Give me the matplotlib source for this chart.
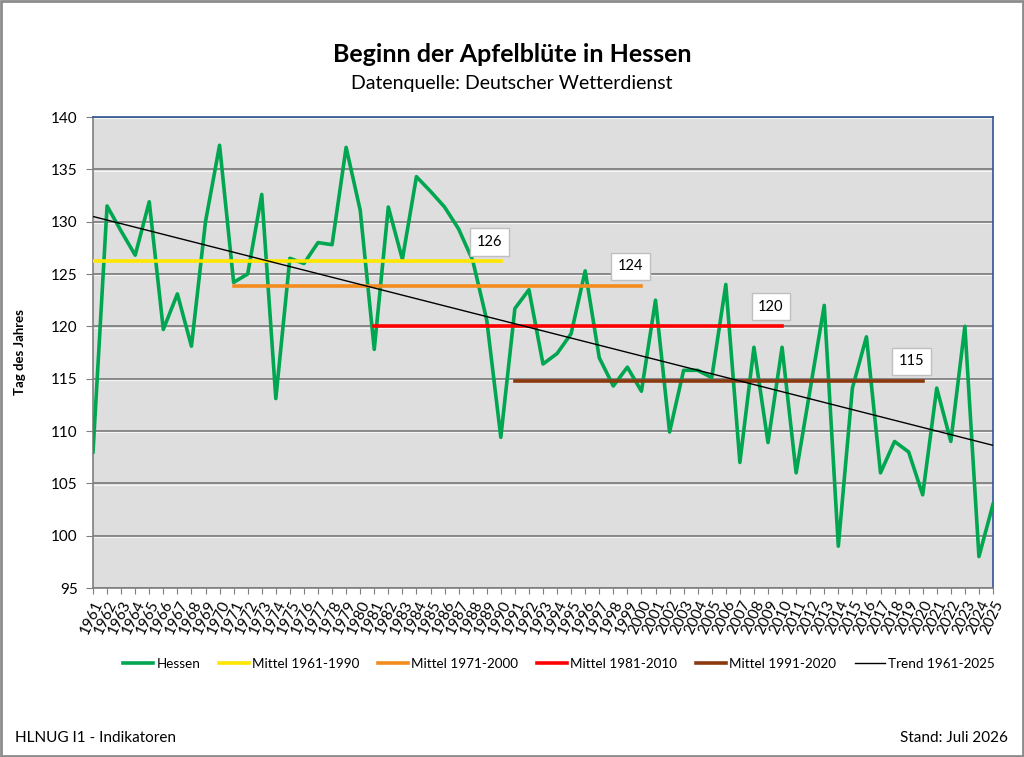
import matplotlib
matplotlib.use('Agg')
import matplotlib.pyplot as plt
import numpy as np

plt.rcParams['font.family'] = ['Lato', 'DejaVu Sans']

# Beginn der Apfelblüte (Tag des Jahres), Hessen
jahre = list(range(1961, 2026))
hessen = [108.0, 131.5, 129.1, 126.8, 131.9, 119.7, 123.1, 118.1, 130.0, 137.3,
          124.2, 125.0, 132.6, 113.1, 126.5, 126.0, 128.0, 127.8, 137.1, 131.1,
          117.8, 131.4, 126.4, 134.3, 132.9, 131.4, 129.3, 126.3, 120.6, 109.4,
          121.7, 123.5, 116.4, 117.4, 119.3, 125.3, 117.0, 114.3, 116.1, 113.8,
          122.5, 109.9, 115.8, 115.8, 115.1, 124.0, 107.0, 118.0, 108.9, 118.0,
          106.0, 114.0, 122.0, 99.0, 114.1, 119.0, 106.0, 109.0, 108.0, 103.9,
          114.1, 109.0, 120.0, 98.0, 103.0]

# Mittelwerte (Zeitraum, Wert, Farbe)
mittel_namen = ['Mittel 1961-1990', 'Mittel 1971-2000', 'Mittel 1981-2010', 'Mittel 1991-2020']
mittel_start = [1961, 1971, 1981, 1991]
mittel_ende = [1990, 2000, 2010, 2020]
mittel_werte = [126.2, 123.9, 120.0, 114.8]
mittel_labels = ['126', '124', '120', '115']
mittel_farben = ['#ffe600', '#f28c1e', '#ff0000', '#8b3a0f']

jahre = np.array(jahre)
hessen = np.array(hessen)

fig = plt.figure(figsize=(10.24, 7.57), dpi=100)
ax = fig.add_axes([93 / 1024, 1 - 588 / 757, 900 / 1024, 471 / 757])
ax.set_facecolor('#dedede')

# Gitter
for v in range(95, 141, 5):
    ax.axhline(v, color='#7f7f7f', lw=1.3, zorder=1)
    ax.axhline(v - 0.12, color='#f5f5f5', lw=0.8, zorder=1)

ax.plot(jahre, hessen, color='#00a650', lw=2.6, label='Hessen', zorder=3)

for name, s, e, w, lab, c in zip(mittel_namen, mittel_start, mittel_ende,
                                  mittel_werte, mittel_labels, mittel_farben):
    ax.plot([s, e], [w, w], color=c, lw=2.6, label=name, zorder=4)
    ax.annotate(lab, xy=(e - 0.8, w), xytext=(0, 14), textcoords='offset points',
                ha='center', va='center', fontsize=10.5,
                bbox=dict(boxstyle='square,pad=0.45', fc='white', ec='#bfbfbf', lw=1),
                zorder=6)

# linearer Trend
k, d = np.polyfit(jahre, hessen, 1)
ax.plot(jahre, k * jahre + d, color='black', lw=1.0, label='Trend 1961-2025', zorder=5)

ax.set_xlim(1961, 2025)
ax.set_ylim(95, 140)
ax.set_yticks(range(95, 141, 5))
ax.set_xticks(jahre)
ax.set_xticklabels([str(j) for j in jahre], rotation=65, ha='right',
                   rotation_mode='anchor', fontsize=11)
ax.tick_params(axis='y', labelsize=11, length=5, color='#7f7f7f', pad=6)
ax.tick_params(axis='x', length=4, color='#7f7f7f', pad=3)

for sp in ['left', 'bottom']:
    ax.spines[sp].set_color('#7f7f7f')
    ax.spines[sp].set_linewidth(1.2)
for sp in ['top', 'right']:
    ax.spines[sp].set_color('#2f5597')
    ax.spines[sp].set_linewidth(1.2)

ax.set_ylabel('Tag des Jahres', fontsize=9.5, fontweight='bold')
ax.yaxis.set_label_coords(-0.075, 0.5)

fig.text(0.5, 1 - 54 / 757, 'Beginn der Apfelblüte in Hessen', ha='center', va='center',
         fontsize=18, fontweight='bold')
fig.text(0.5, 1 - 84 / 757, 'Datenquelle: Deutscher Wetterdienst', ha='center', va='center',
         fontsize=14)

leg = fig.legend(loc='center', bbox_to_anchor=(0.546, 1 - 664 / 757), ncol=6, frameon=False,
                 fontsize=9.7, handlelength=2.2, handletextpad=0.25, columnspacing=1.4,
                 borderpad=0, borderaxespad=0)

fig.text(15 / 1024, 1 - 738 / 757, 'HLNUG I1 - Indikatoren', ha='left', va='center', fontsize=11)
fig.text(1008 / 1024, 1 - 738 / 757, 'Stand: Juli 2026', ha='right', va='center', fontsize=11)

# Rahmen
fig.patches.append(plt.Rectangle((0.001, 0.001), 0.998, 0.998, transform=fig.transFigure,
                                 fill=False, ec='#8c8c8c', lw=2))

fig.savefig('out.png', dpi=100)
